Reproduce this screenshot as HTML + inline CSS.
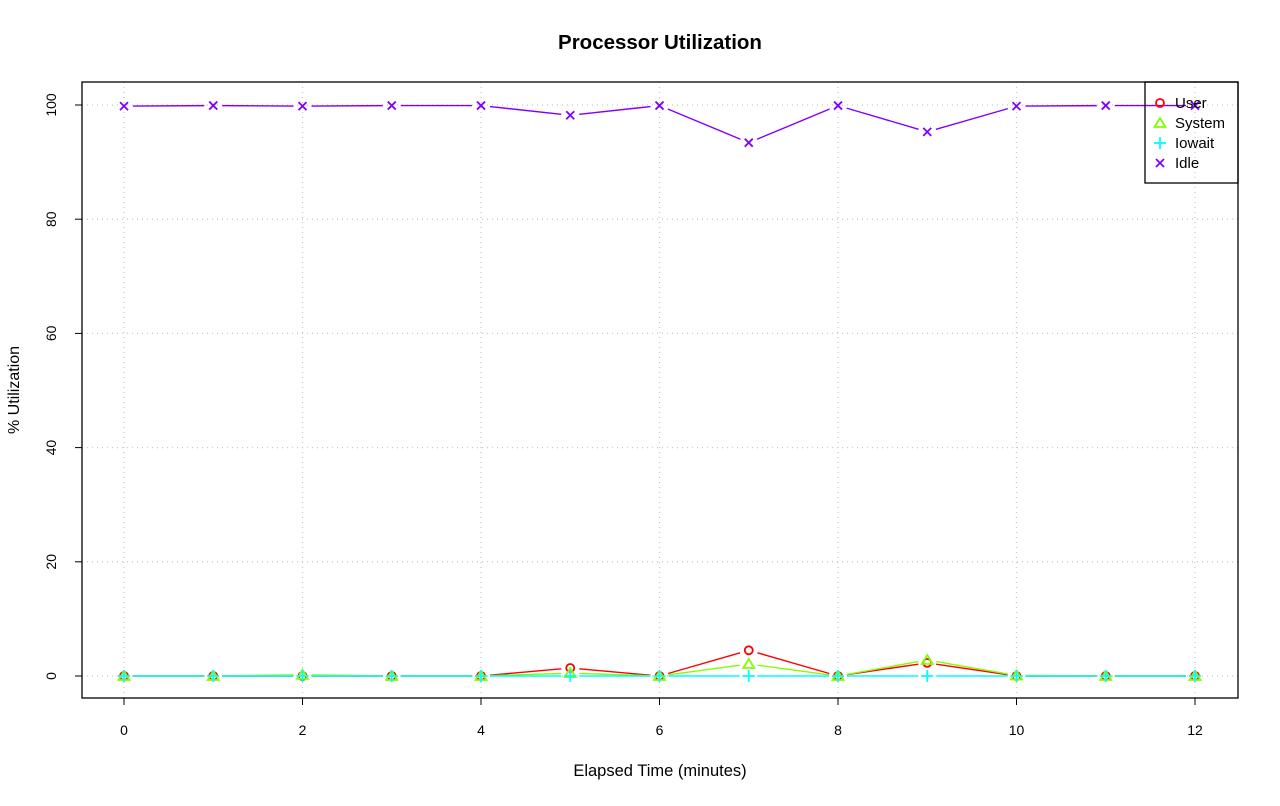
<!DOCTYPE html>
<html><head><meta charset="utf-8"><style>
body{margin:0;background:#fff;}
svg text{font-family:"Liberation Sans",sans-serif;}
</style></head><body>
<svg id="chart" width="1280" height="801" xmlns="http://www.w3.org/2000/svg">
<rect width="1280" height="801" fill="#fff"/>
<text x="660" y="49" text-anchor="middle" font-size="20.5" font-weight="bold">Processor Utilization</text>
<text x="660" y="776" text-anchor="middle" font-size="16.5">Elapsed Time (minutes)</text>
<text transform="translate(19,390) rotate(-90)" text-anchor="middle" font-size="16">% Utilization</text>
<g id="grid"></g><g id="axes"></g><g id="series"></g>
<rect x="82" y="82" width="1156" height="616" fill="none" stroke="#000" stroke-width="1.3"/>
<g id="legend"></g>
</svg>
<script>
const times=[0,1,2,3,4,5,6,7,8,9,10,11,12];
const userVals=[0,0,0,0,0,1.4,0,4.5,0,2.3,0,0,0];
const systemVals=[0,0,0.2,0,0,0.5,0,2.1,0,2.8,0.1,0,0];
const iowaitVals=[0,0,0,0,0,0,0,0,0,0,0,0,0];
const idleVals=[99.8,99.9,99.8,99.9,99.9,98.2,99.9,93.4,99.9,95.3,99.8,99.9,99.9];
const xTicks=[0,2,4,6,8,10,12];
const yTicks=[0,20,40,60,80,100];
const seriesNames=["User","System","Iowait","Idle"];
const seriesColors=["#ff0000","#80ff00","#00ffff","#8000ff"];
const NS="http://www.w3.org/2000/svg";
const X=v=>124+v*(1195-124)/12;
const Y=v=>676-v*(676-105)/100;
function mk(tag,attrs,parent){const e=document.createElementNS(NS,tag);for(const k in attrs)e.setAttribute(k,attrs[k]);parent.appendChild(e);return e;}
const grid=document.getElementById('grid'),axes=document.getElementById('axes'),ser=document.getElementById('series'),leg=document.getElementById('legend');
xTicks.forEach(t=>{
 const g=mk('line',{x1:X(t),x2:X(t),y1:82,y2:698,stroke:'#c8c8c8','stroke-dasharray':'1,4','stroke-width':1.3},grid);
 
 
 const tk=mk('line',{x1:X(t),x2:X(t),y1:698,y2:705,stroke:'#000'},axes);
 
 
 const tx=mk('text',{x:X(t),y:735,'text-anchor':'middle','font-size':14},axes);tx.textContent=t;
 
 
});
yTicks.forEach(t=>{
 const g=mk('line',{x1:82,x2:1238,y1:Y(t),y2:Y(t),stroke:'#c8c8c8','stroke-dasharray':'1,4','stroke-width':1.3},grid);
 
 
 const tk=mk('line',{x1:75,x2:82,y1:Y(t),y2:Y(t),stroke:'#000'},axes);
 
 
 const tx=mk('text',{transform:`translate(56,${Y(t)}) rotate(-90)`,'text-anchor':'middle','font-size':14},axes);tx.textContent=t;
 
 
});
function marker(kind,x,y,c,parent){
 const g=mk('g',{stroke:c,'stroke-width':1.8,fill:'none'},parent);
 if(kind===0)mk('circle',{cx:x,cy:y,r:4},g);
 else if(kind===1)mk('polygon',{points:`${x},${y-5} ${x+5.5},${y+4} ${x-5.5},${y+4}`},g);
 else if(kind===2){mk('line',{x1:x-6,x2:x+6,y1:y,y2:y},g);mk('line',{x1:x,x2:x,y1:y-6,y2:y+6},g);}
 else {mk('line',{x1:x-4,x2:x+4,y1:y-4,y2:y+4},g);mk('line',{x1:x-4,x2:x+4,y1:y+4,y2:y-4},g);}
 return g;
}
[userVals,systemVals,iowaitVals,idleVals].forEach((vals,i)=>{
 for(let j=0;j<vals.length-1;j++){
  const x1=X(times[j]),y1=Y(vals[j]),x2=X(times[j+1]),y2=Y(vals[j+1]);
  const L=Math.hypot(x2-x1,y2-y1),g=9,ux=(x2-x1)/L,uy=(y2-y1)/L;
  const s=mk('line',{x1:x1+ux*g,y1:y1+uy*g,x2:x2-ux*g,y2:y2-uy*g,stroke:seriesColors[i],'stroke-width':1.4},ser);
  
  
 }
 vals.forEach((v,j)=>{const m=marker(i,X(times[j]),Y(v),seriesColors[i],ser);
  
  });
});
const lb=mk('rect',{x:1145,y:82,width:93,height:101,fill:'none',stroke:'#000','stroke-width':1.3},leg);


seriesNames.forEach((n,i)=>{
 const y=103+i*20;
 const m=marker(i,1160,y,seriesColors[i],leg);
 
 
 const t=mk('text',{x:1175,y:y+5,'font-size':15},leg);t.textContent=n;
 
 
});
</script>
</body></html>
